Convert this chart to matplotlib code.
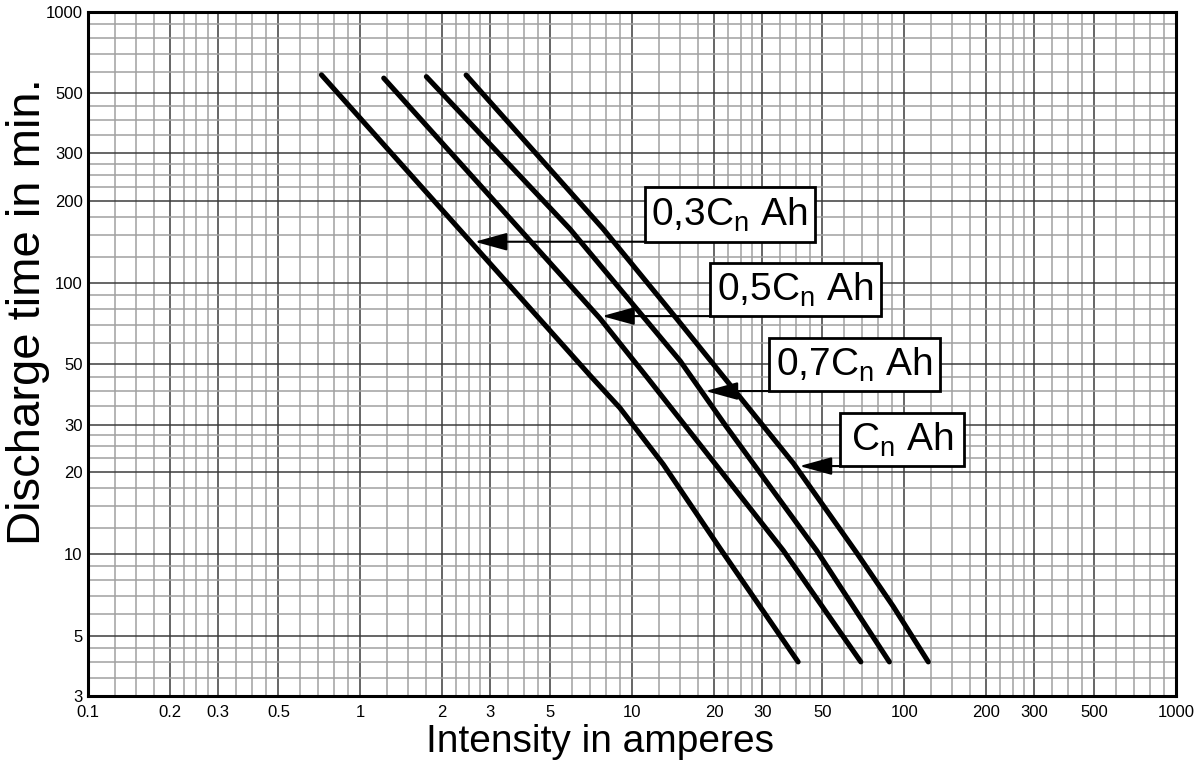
import numpy as np
import matplotlib
matplotlib.use("Agg")
from matplotlib import pyplot as plt
from matplotlib.patches import Rectangle
from matplotlib.ticker import FixedLocator, NullFormatter

plt.rcParams['font.family'] = ['Liberation Sans', 'DejaVu Sans']
plt.rcParams['mathtext.fontset'] = 'custom'
plt.rcParams['mathtext.rm'] = 'Liberation Sans'

# --- data (current in A, discharge time in min) ---
cap_names = ['0,3C', '0,5C', '0,7C', 'C']

amps_03 = [0.72, 7.0, 9.0, 13.0, 21.0, 40.7]
mins_03 = [585, 45.5, 34.6, 21.4, 10.5, 4.0]

amps_05 = [1.22, 7.6, 11.4, 35.9, 69.2]
mins_05 = [569, 74.0, 44.5, 10.3, 4.0]

amps_07 = [1.75, 5.9, 15.0, 22.0, 47.6, 88.1]
mins_07 = [576, 158, 51.5, 29.8, 10.3, 4.0]

amps_10 = [2.45, 7.82, 14.6, 39.1, 66.8, 91.1, 122.5]
mins_10 = [584, 158, 73.5, 21.6, 10.1, 6.4, 4.0]

x_ticks = [0.1, 0.2, 0.3, 0.5, 1, 2, 3, 5, 10, 20, 30, 50, 100, 200, 300, 500, 1000]
x_tick_labels = ['0.1', '0.2', '0.3', '0.5', '1', '2', '3', '5', '10', '20', '30', '50',
                 '100', '200', '300', '500', '1000']
y_ticks = [3, 5, 10, 20, 30, 50, 100, 200, 300, 500, 1000]
y_tick_labels = ['3', '5', '10', '20', '30', '50', '100', '200', '300', '500', '1000']
sub_steps = [1.25, 1.5, 1.75, 2.25, 2.5, 2.75, 3.5, 4, 4.5, 6, 7, 8, 9]

curves = [(amps_03, mins_03), (amps_05, mins_05), (amps_07, mins_07), (amps_10, mins_10)]

# label boxes: (left, right, bottom, top) in data units; arrow runs along the bottom edge
boxes = [(11.1, 46.9, 141.8, 225.6),
         (19.3, 81.9, 75.4, 118.6),
         (31.8, 135.3, 39.9, 62.7),
         (58.0, 166.2, 21.1, 33.2)]

fig = plt.figure(figsize=(11.99, 7.67), dpi=100)
ax = fig.add_axes([0.0736, 0.0929, 0.9075, 0.8918])
ax.set_xscale('log')
ax.set_yscale('log')
ax.set_xlim(0.1, 1000)
ax.set_ylim(3, 1000)

# graph-paper grid
decades = [0.1, 1, 10, 100]
x_minor = [d * s for d in decades for s in sub_steps]
y_minor = [d * s for d in [1, 10, 100] for s in sub_steps if 3 < d * s < 1000]
ax.xaxis.set_major_locator(FixedLocator(x_ticks))
ax.yaxis.set_major_locator(FixedLocator(y_ticks))
ax.xaxis.set_minor_locator(FixedLocator(x_minor))
ax.yaxis.set_minor_locator(FixedLocator(y_minor))
ax.xaxis.set_minor_formatter(NullFormatter())
ax.yaxis.set_minor_formatter(NullFormatter())
ax.set_xticklabels(x_tick_labels)
ax.set_yticklabels(y_tick_labels)
ax.grid(which='major', color='#3c3c3c', lw=1.1)
ax.grid(which='minor', color='#a0a0a0', lw=1.1)
ax.set_axisbelow(True)
ax.tick_params(which='both', length=0)
ax.tick_params(axis='x', pad=7, labelsize=12)
ax.tick_params(axis='y', pad=4, labelsize=12)
for sp in ax.spines.values():
    sp.set_linewidth(2.2)
    sp.set_color('black')

for xs, ys in curves:
    ax.plot(xs, ys, color='black', lw=3.7, solid_capstyle='round', solid_joinstyle='round')

# labels with arrows pointing at their curve
for name, (xs, ys), (x0, x1, y0, y1) in zip(cap_names, curves, boxes):
    lx, ly = np.log10(xs), np.log10(ys)
    tip = 10 ** np.interp(np.log10(y0), ly[::-1], lx[::-1])
    ax.add_patch(Rectangle((x0, y0), x1 - x0, y1 - y0, facecolor='white',
                           edgecolor='black', lw=2.0, zorder=4))
    xc = 10 ** ((np.log10(x0) + np.log10(x1)) / 2)
    yc = 10 ** ((np.log10(y0) + np.log10(y1)) / 2)
    ax.text(xc, yc, name + r'$_\mathregular{n}$ Ah', fontsize=28, ha='center', va='center',
            zorder=5)
    ax.annotate('', xy=(tip, y0), xytext=(x0, y0),
                arrowprops=dict(arrowstyle='-|>,head_length=2.0,head_width=0.55',
                                mutation_scale=10, color='black', lw=1.5,
                                shrinkA=0, shrinkB=3), zorder=4)

fig.text(0.5004, 0.032, 'Intensity in amperes', fontsize=28, ha='center', va='center')
fig.text(0.0234, 0.594, 'Discharge time in min.', fontsize=34, ha='center', va='center',
         rotation=90)

fig.savefig('out.png', dpi=100)
